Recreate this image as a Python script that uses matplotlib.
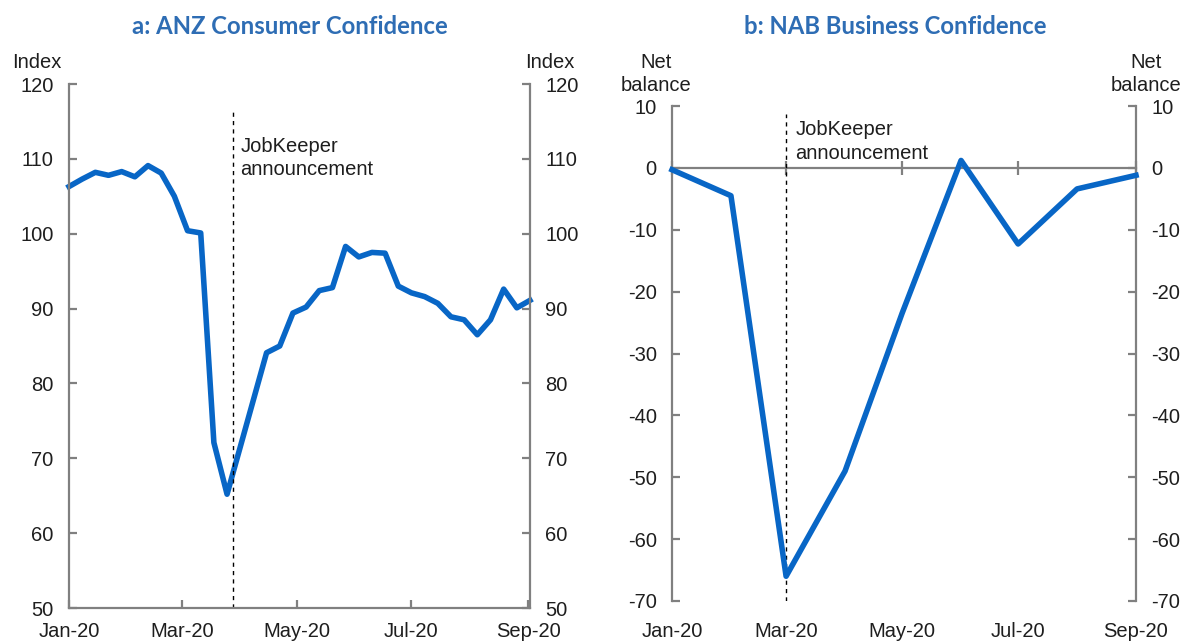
import pandas as pd
import matplotlib
matplotlib.use('Agg')
import matplotlib.pyplot as plt
import matplotlib.dates as mdates

plt.rcParams['font.family'] = ['Liberation Sans', 'DejaVu Sans']
plt.rcParams['axes.unicode_minus'] = False

# ANZ consumer confidence, weekly
anz_dates = pd.date_range('2020-01-01', periods=36, freq='7D')
anz_index = [106.3, 107.3, 108.2, 107.8, 108.3, 107.6, 109.1, 108.1, 105.0,
             100.4, 100.1, 72.1, 65.2, 71.5, 77.8, 84.1, 85.0, 89.4, 90.2,
             92.4, 92.8, 98.3, 96.9, 97.5, 97.4, 93.0, 92.1, 91.6, 90.7,
             88.9, 88.5, 86.5, 88.5, 92.6, 90.1, 91.1]

# NAB business confidence, monthly
nab_months = pd.date_range('2020-01-01', periods=9, freq='MS')
nab_balance = [-0.3, -4.5, -66.0, -49.0, -23.5, 1.2, -12.3, -3.4, -1.2]

month_ticks = pd.to_datetime(['2020-01-01', '2020-03-01', '2020-05-01',
                              '2020-07-01', '2020-09-01'])
jobkeeper_a = pd.Timestamp('2020-03-28')
jobkeeper_b = pd.Timestamp('2020-03-01')

BLUE = '#0866C6'
GRAY = '#808080'
TXT = '#1e1e1e'
TITLE = '#2E6DB4'
FS = 14.5

W, H = 1192, 644


def px(x, y):
    return x / W, 1 - y / H


def style_axes(ax):
    for side in ['left', 'right', 'bottom']:
        ax.spines[side].set_color(GRAY)
        ax.spines[side].set_linewidth(1.6)
    ax.spines['top'].set_visible(False)
    ax.tick_params(axis='y', direction='in', length=6, width=1.6, color=GRAY,
                   left=True, right=True, labelleft=True, labelright=True,
                   labelsize=FS, labelcolor=TXT, pad=11)
    ax.set_xticks(month_ticks)
    ax.xaxis.set_major_formatter(mdates.DateFormatter('%b-%y'))


fig = plt.figure(figsize=(W / 100, H / 100), dpi=100)

# --- panel a
ax1 = fig.add_axes([69 / W, 1 - 608 / H, 461 / W, 524 / H])
ax1.plot(anz_dates, anz_index, color=BLUE, lw=4, solid_joinstyle='round',
         clip_on=False)
ax1.set_ylim(50, 120)
ax1.set_yticks(range(50, 121, 10))
ax1.set_xlim(pd.Timestamp('2020-01-01'), pd.Timestamp('2020-09-02'))
style_axes(ax1)
ax1.tick_params(axis='x', direction='in', length=6, width=1.6, color=GRAY,
                labelsize=FS, labelcolor=TXT, pad=10)
ax1.axvline(jobkeeper_a, ymax=0.954, color='black', lw=1, ls=(0, (3, 3)))
ax1.text(jobkeeper_a + pd.Timedelta(days=4), 110.1, 'JobKeeper\nannouncement',
         fontsize=FS, color=TXT, va='center', ha='left', linespacing=1.3)

fig.text(*px(37, 62), 'Index', fontsize=FS, color=TXT, ha='center', va='center')
fig.text(*px(550, 62), 'Index', fontsize=FS, color=TXT, ha='center', va='center')
fig.text(*px(290, 27), 'a: ANZ Consumer Confidence', fontsize=17.2,
         fontweight='bold', family='Lato', color=TITLE, ha='center', va='center')

# --- panel b
ax2 = fig.add_axes([672 / W, 1 - 601 / H, 464 / W, 495 / H])
ax2.plot(nab_months, nab_balance, color=BLUE, lw=4, solid_joinstyle='round',
         clip_on=False, zorder=3)
ax2.set_ylim(-70, 10)
ax2.set_yticks(range(-70, 11, 10))
ax2.set_xlim(pd.Timestamp('2020-01-01'), pd.Timestamp('2020-09-01'))
style_axes(ax2)
ax2.spines['bottom'].set_visible(False)
ax2.tick_params(axis='x', length=0, labelsize=FS, labelcolor=TXT, pad=15)

zero = ax2.secondary_xaxis(0, transform=ax2.transData)
zero.set_xticks(mdates.date2num(month_ticks))
zero.tick_params(direction='inout', length=10, width=1.6, color=GRAY,
                 labelbottom=False)
zero.spines['bottom'].set_color(GRAY)
zero.spines['bottom'].set_linewidth(1.6)

ax2.axvline(jobkeeper_b, ymax=0.984, color='black', lw=1, ls=(0, (3, 3)))
ax2.text(jobkeeper_b + pd.Timedelta(days=5), 4.3, 'JobKeeper\nannouncement',
         fontsize=FS, color=TXT, va='center', ha='left', linespacing=1.3)

fig.text(*px(656, 74), 'Net\nbalance', fontsize=FS, color=TXT, ha='center',
         va='center', linespacing=1.25)
fig.text(*px(1146, 74), 'Net\nbalance', fontsize=FS, color=TXT, ha='center',
         va='center', linespacing=1.25)
fig.text(*px(895, 27), 'b: NAB Business Confidence', fontsize=17.2,
         fontweight='bold', family='Lato', color=TITLE, ha='center', va='center')

fig.savefig('out.png', dpi=100)
